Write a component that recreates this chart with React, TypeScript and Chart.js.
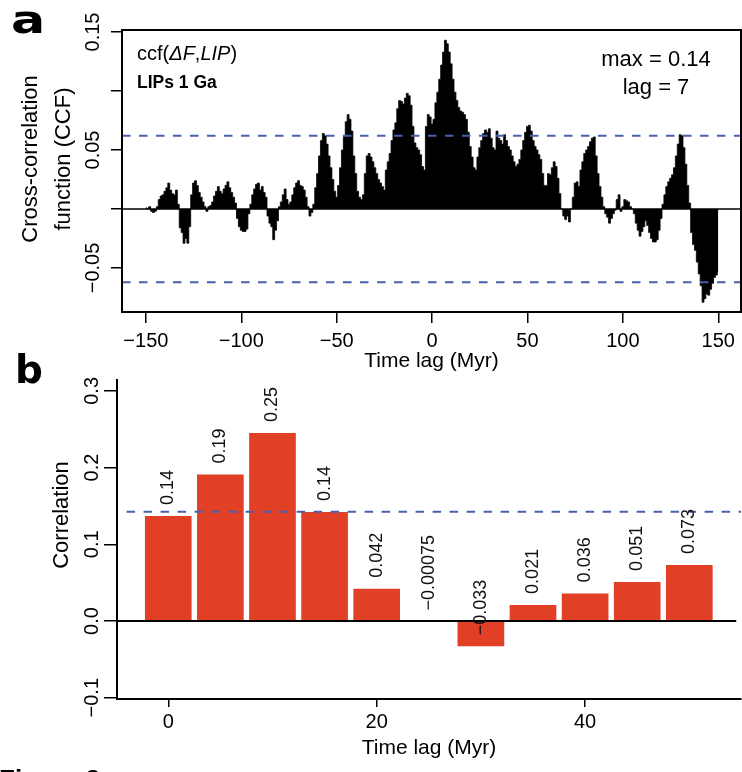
import React, { useEffect, useRef } from 'react';
import Chart from 'chart.js/auto';

// --- panel a: cross-correlation function, lags -150..150 Myr ---
const ccfLags = Array.from({ length: 301 }, (_, i) => i - 150);
const ccfValues = [
  0.001, 0.0, 0.002, -0.002, -0.003, -0.002, 0.002, 0.008, 0.011, 0.012, // -150
  0.015, 0.018, 0.022, 0.016, 0.013, 0.012, 0.016, 0.004, -0.016, -0.02, // -140
  -0.029, -0.025, -0.029, -0.015, 0.012, 0.022, 0.024, 0.02, 0.014, 0.01, // -130
  0.006, 0.002, -0.002, 0.002, 0.003, 0.006, 0.011, 0.015, 0.019, 0.015, // -120
  0.013, 0.017, 0.02, 0.023, 0.018, 0.014, 0.01, 0.005, -0.008, -0.015, // -110
  -0.018, -0.019, -0.019, -0.017, -0.004, 0.004, 0.012, 0.017, 0.021, 0.022, // -100
  0.016, 0.019, 0.014, 0.01, -0.006, -0.012, -0.015, -0.026, -0.018, -0.01, // -90
  0.002, 0.006, 0.012, 0.017, 0.008, 0.004, 0.006, 0.012, 0.018, 0.022, // -80
  0.024, 0.02, 0.019, 0.016, 0.01, 0.002, -0.006, -0.003, 0.004, 0.018, // -70
  0.03, 0.045, 0.058, 0.064, 0.062, 0.055, 0.045, 0.035, 0.025, 0.015, // -60
  0.01, 0.02, 0.035, 0.05, 0.062, 0.074, 0.08, 0.076, 0.066, 0.045, // -50
  0.03, 0.015, 0.01, 0.008, 0.012, 0.03, 0.045, 0.047, 0.044, 0.04, // -40
  0.035, 0.03, 0.025, 0.022, 0.019, 0.016, 0.033, 0.04, 0.047, 0.058, // -30
  0.067, 0.073, 0.085, 0.092, 0.091, 0.089, 0.094, 0.098, 0.096, 0.088, // -20
  0.07, 0.056, 0.052, 0.05, 0.046, 0.036, 0.033, 0.07, 0.08, 0.078, // -10
  0.072, 0.076, 0.09, 0.099, 0.11, 0.122, 0.133, 0.143, 0.14, 0.133, // 0
  0.123, 0.11, 0.099, 0.092, 0.086, 0.083, 0.082, 0.08, 0.076, 0.065, // 10
  0.053, 0.044, 0.035, 0.033, 0.044, 0.052, 0.058, 0.064, 0.067, 0.065, // 20
  0.068, 0.06, 0.052, 0.05, 0.066, 0.06, 0.058, 0.055, 0.063, 0.058, // 30
  0.053, 0.05, 0.045, 0.04, 0.036, 0.038, 0.042, 0.05, 0.058, 0.065, // 40
  0.07, 0.071, 0.066, 0.058, 0.053, 0.05, 0.046, 0.042, 0.03, 0.02, // 50
  0.02, 0.03, 0.029, 0.035, 0.04, 0.036, 0.026, 0.013, 0.0, -0.006, // 60
  -0.009, -0.006, -0.011, 0.0, 0.01, 0.022, 0.023, 0.019, 0.033, 0.04, // 70
  0.047, 0.05, 0.053, 0.057, 0.06, 0.061, 0.045, 0.03, 0.019, 0.01, // 80
  0.002, -0.004, -0.007, -0.012, -0.008, -0.004, -0.001, 0.008, 0.012, -0.002, // 90
  0.002, 0.008, 0.007, 0.006, 0.002, 0.0, -0.004, -0.012, -0.018, -0.023, // 100
  -0.019, -0.015, -0.01, -0.014, -0.02, -0.025, -0.028, -0.028, -0.026, -0.018, // 110
  -0.008, 0.004, 0.012, 0.019, 0.023, 0.026, 0.029, 0.035, 0.045, 0.055, // 120
  0.063, 0.062, 0.052, 0.038, 0.02, 0.005, -0.02, -0.03, -0.035, -0.045, // 130
  -0.055, -0.065, -0.079, -0.076, -0.072, -0.073, -0.068, -0.063, -0.058, -0.056, // 140
  -0.053, // 150
];
const ccfBand = 0.062;
const ccfXRange = [-162.5, 161.9];
const ccfYRange = [-0.0873, 0.1517];
const ccfXTicks = [-150, -100, -50, 0, 50, 100, 150];
const ccfXTickLabels = ['−150', '−100', '−50', '0', '50', '100', '150'];
const ccfYTicks = [-0.05, 0, 0.05, 0.1, 0.15];
const ccfYTickLabels = ['−0.05', '', '0.05', '', '0.15'];

// --- panel b: correlation per lag bin ---
const corrLags = [0, 5, 10, 15, 20, 25, 30, 35, 40, 45, 50];
const corrValues = [0.137, 0.191, 0.245, 0.142, 0.042, -0.00075, -0.033, 0.021, 0.036, 0.051, 0.073];
const corrLabels = ['0.14', '0.19', '0.25', '0.14', '0.042', '−0.00075', '−0.033', '0.021', '0.036', '0.051', '0.073'];
const corrThreshold = 0.1425;
const corrXRange = [-4.92, 54.96];
const corrYRange = [-0.1017, 0.3142];
const corrXTicks = [0, 20, 40];
const corrXTickLabels = ['0', '20', '40'];
const corrYTicks = [-0.1, 0, 0.1, 0.2, 0.3];
const corrYTickLabels = ['−0.1', '0.0', '0.1', '0.2', '0.3'];

const FONT = "'Liberation Sans', Arial, sans-serif";
const BLUE = '#4a5fad';
const RED = '#e23f27';

const fixedTicks = (values: number[]) => (scale: any) => {
  scale.ticks = values.map((v) => ({ value: v }));
};

const tickFont = { family: FONT, size: 20 };

function drawRuns(ctx: CanvasRenderingContext2D, runs: [string, string][], x: number, y: number) {
  let cx = x;
  for (const [text, font] of runs) {
    ctx.font = font;
    ctx.fillText(text, cx, y);
    cx += ctx.measureText(text).width;
  }
}

const panelA = {
  id: 'panelA',
  afterDraw(chart: any) {
    const { ctx, chartArea: a } = chart;
    ctx.save();
    ctx.strokeStyle = '#000';
    ctx.lineWidth = 2;
    ctx.strokeRect(a.left, a.top, a.right - a.left, a.bottom - a.top);

    ctx.fillStyle = '#000';
    // y title
    ctx.save();
    ctx.translate(30.7, 159);
    ctx.rotate(-Math.PI / 2);
    ctx.textAlign = 'center';
    ctx.textBaseline = 'middle';
    ctx.font = `22px ${FONT}`;
    ctx.fillText('Cross-correlation', 0, 0);
    ctx.fillText('function (CCF)', 0, 33);
    ctx.restore();

    ctx.textBaseline = 'alphabetic';
    ctx.textAlign = 'left';
    const n = `20px ${FONT}`;
    const it = `italic 20px ${FONT}`;
    drawRuns(ctx, [['ccf(', n], ['ΔF', it], [',', n], ['LIP', it], [')', n]], 137, 60);
    ctx.font = `bold 17.5px ${FONT}`;
    ctx.fillText('LIPs 1 Ga', 137, 88);

    ctx.textAlign = 'center';
    ctx.font = `22px ${FONT}`;
    ctx.fillText('max = 0.14', 656, 66);
    ctx.fillText('lag = 7', 656, 94);

    // panel letter
    ctx.save();
    ctx.translate(11, 33);
    ctx.scale(1.3, 1);
    ctx.textAlign = 'left';
    ctx.font = `bold 39px 'DejaVu Sans', sans-serif`;
    ctx.fillText('a', 0, 0);
    ctx.restore();
    ctx.restore();
  },
};

const panelB = {
  id: 'panelB',
  afterDatasetsDraw(chart: any) {
    const { ctx } = chart;
    const meta = chart.getDatasetMeta(2);
    ctx.save();
    ctx.fillStyle = '#111';
    ctx.font = `18px ${FONT}`;
    ctx.textAlign = 'left';
    ctx.textBaseline = 'middle';
    meta.data.forEach((el: any, i: number) => {
      ctx.save();
      ctx.translate(el.x, el.y - 11);
      ctx.rotate(-Math.PI / 2);
      ctx.fillText(corrLabels[i], 0, 0);
      ctx.restore();
    });
    ctx.restore();
  },
  afterDraw(chart: any) {
    const { ctx } = chart;
    ctx.save();
    ctx.fillStyle = '#000';
    ctx.save();
    ctx.translate(62.4, 170);
    ctx.rotate(-Math.PI / 2);
    ctx.textAlign = 'center';
    ctx.textBaseline = 'middle';
    ctx.font = `22px ${FONT}`;
    ctx.fillText('Correlation', 0, 0);
    ctx.restore();

    ctx.textAlign = 'left';
    ctx.textBaseline = 'alphabetic';
    ctx.font = `bold 39px 'DejaVu Sans', sans-serif`;
    ctx.fillText('b', 15, 38);

    // caption strip at the bottom edge
    ctx.fillStyle = '#fff';
    ctx.fillRect(0, 416, chart.width, 20);
    ctx.fillStyle = '#000';
    ctx.font = `bold 26px ${FONT}`;
    ctx.fillText('Figure 3', -1, 443);
    ctx.restore();
  },
};

export default function App() {
  const refA = useRef<HTMLCanvasElement | null>(null);
  const refB = useRef<HTMLCanvasElement | null>(null);

  useEffect(() => {
    if (!refA.current || !refB.current) return;

    const chartA = new Chart(refA.current, {
      type: 'line',
      data: {
        datasets: [
          {
            data: [{ x: ccfXRange[0], y: 0 }, { x: ccfXRange[1], y: 0 }],
            borderColor: '#000', borderWidth: 1.5, pointRadius: 0, order: 0,
          },
          {
            data: [{ x: ccfXRange[0], y: ccfBand }, { x: ccfXRange[1], y: ccfBand }],
            borderColor: BLUE, borderWidth: 2, borderDash: [8.5, 8.5], pointRadius: 0, order: 0,
          },
          {
            data: [{ x: ccfXRange[0], y: -ccfBand }, { x: ccfXRange[1], y: -ccfBand }],
            borderColor: BLUE, borderWidth: 2, borderDash: [8.5, 8.5], pointRadius: 0, order: 0,
          },
          {
            data: ccfLags.map((x, i) => ({ x, y: ccfValues[i] })),
            stepped: 'middle', fill: 'origin',
            backgroundColor: '#000', borderColor: '#000', borderWidth: 0.8,
            pointRadius: 0, order: 1,
          },
        ],
      } as any,
      options: {
        animation: false,
        responsive: false,
        events: [],
        layout: { padding: { top: 30, right: 1, left: 0, bottom: 0 } },
        plugins: { legend: { display: false }, tooltip: { enabled: false } },
        scales: {
          x: {
            type: 'linear', min: ccfXRange[0], max: ccfXRange[1],
            afterBuildTicks: fixedTicks(ccfXTicks),
            afterFit: (s: any) => { s.height = 68; },
            ticks: {
              callback: (_v: any, i: number) => ccfXTickLabels[i],
              autoSkip: false, maxRotation: 0, minRotation: 0, padding: 6,
              color: '#000', font: tickFont,
            },
            grid: { drawOnChartArea: false, drawTicks: true, tickLength: 11, color: '#000', lineWidth: 1.5 },
            border: { display: false },
            title: {
              display: true, text: 'Time lag (Myr)', color: '#000',
              font: { family: FONT, size: 21 }, padding: { top: 0, bottom: 6.4 },
            },
          },
          y: {
            type: 'linear', min: ccfYRange[0], max: ccfYRange[1],
            afterBuildTicks: fixedTicks(ccfYTicks),
            afterFit: (s: any) => { s.width = 122; },
            ticks: {
              callback: (_v: any, i: number) => ccfYTickLabels[i],
              autoSkip: false, minRotation: 90, maxRotation: 90, crossAlign: 'center',
              padding: -7.3, color: '#000', font: tickFont,
            },
            grid: { drawOnChartArea: false, drawTicks: true, tickLength: 11, color: '#000', lineWidth: 1.5 },
            border: { display: false },
          },
        },
      } as any,
      plugins: [panelA],
    });

    const chartB = new Chart(refB.current, {
      type: 'bar',
      data: {
        datasets: [
          {
            type: 'line',
            data: [{ x: corrXRange[0], y: 0 }, { x: 54.5, y: 0 }],
            borderColor: '#000', borderWidth: 2, pointRadius: 0, order: 0,
          },
          {
            type: 'line',
            data: [{ x: -4.0, y: corrThreshold }, { x: corrXRange[1], y: corrThreshold }],
            borderColor: BLUE, borderWidth: 2, borderDash: [8.5, 8.5], pointRadius: 0, order: 0,
          },
          {
            type: 'bar',
            data: corrLags.map((x, i) => ({ x, y: corrValues[i] })),
            backgroundColor: RED, borderWidth: 0,
            barPercentage: 0.896, categoryPercentage: 1, order: 1,
          },
        ],
      } as any,
      options: {
        animation: false,
        responsive: false,
        events: [],
        layout: { padding: { top: 35, right: 1, left: 0, bottom: 0 } },
        plugins: { legend: { display: false }, tooltip: { enabled: false } },
        scales: {
          x: {
            type: 'linear', offset: false, min: corrXRange[0], max: corrXRange[1],
            afterBuildTicks: fixedTicks(corrXTicks),
            afterFit: (s: any) => { s.height = 73; },
            ticks: {
              callback: (_v: any, i: number) => corrXTickLabels[i],
              autoSkip: false, maxRotation: 0, minRotation: 0, padding: 3,
              color: '#000', font: tickFont,
            },
            grid: { offset: false, drawOnChartArea: false, drawTicks: true, tickLength: 8, color: '#000', lineWidth: 1.5 },
            border: { display: true, color: '#000', width: 2 },
            title: {
              display: true, text: 'Time lag (Myr)', color: '#000',
              font: { family: FONT, size: 21 }, padding: { top: 0, bottom: 10.7 },
            },
          },
          y: {
            type: 'linear', min: corrYRange[0], max: corrYRange[1],
            afterBuildTicks: fixedTicks(corrYTicks),
            afterFit: (s: any) => { s.width = 117; },
            ticks: {
              callback: (_v: any, i: number) => corrYTickLabels[i],
              autoSkip: false, minRotation: 90, maxRotation: 90, crossAlign: 'center',
              padding: -8.1, color: '#000', font: tickFont,
            },
            grid: { drawOnChartArea: false, drawTicks: true, tickLength: 13, color: '#000', lineWidth: 1.5 },
            border: { display: true, color: '#000', width: 2 },
          },
        },
      } as any,
      plugins: [panelB],
    });

    return () => {
      chartA.destroy();
      chartB.destroy();
    };
  }, []);

  return (
    <div style={{ position: 'fixed', left: 0, top: 0, width: 742, height: 772, background: '#fff', overflow: 'hidden' }}>
      <canvas ref={refA} width={742} height={380} style={{ position: 'absolute', left: 0, top: 0, width: 742, height: 380 }} />
      <canvas ref={refB} width={742} height={427} style={{ position: 'absolute', left: 0, top: 345, width: 742, height: 427 }} />
    </div>
  );
}
